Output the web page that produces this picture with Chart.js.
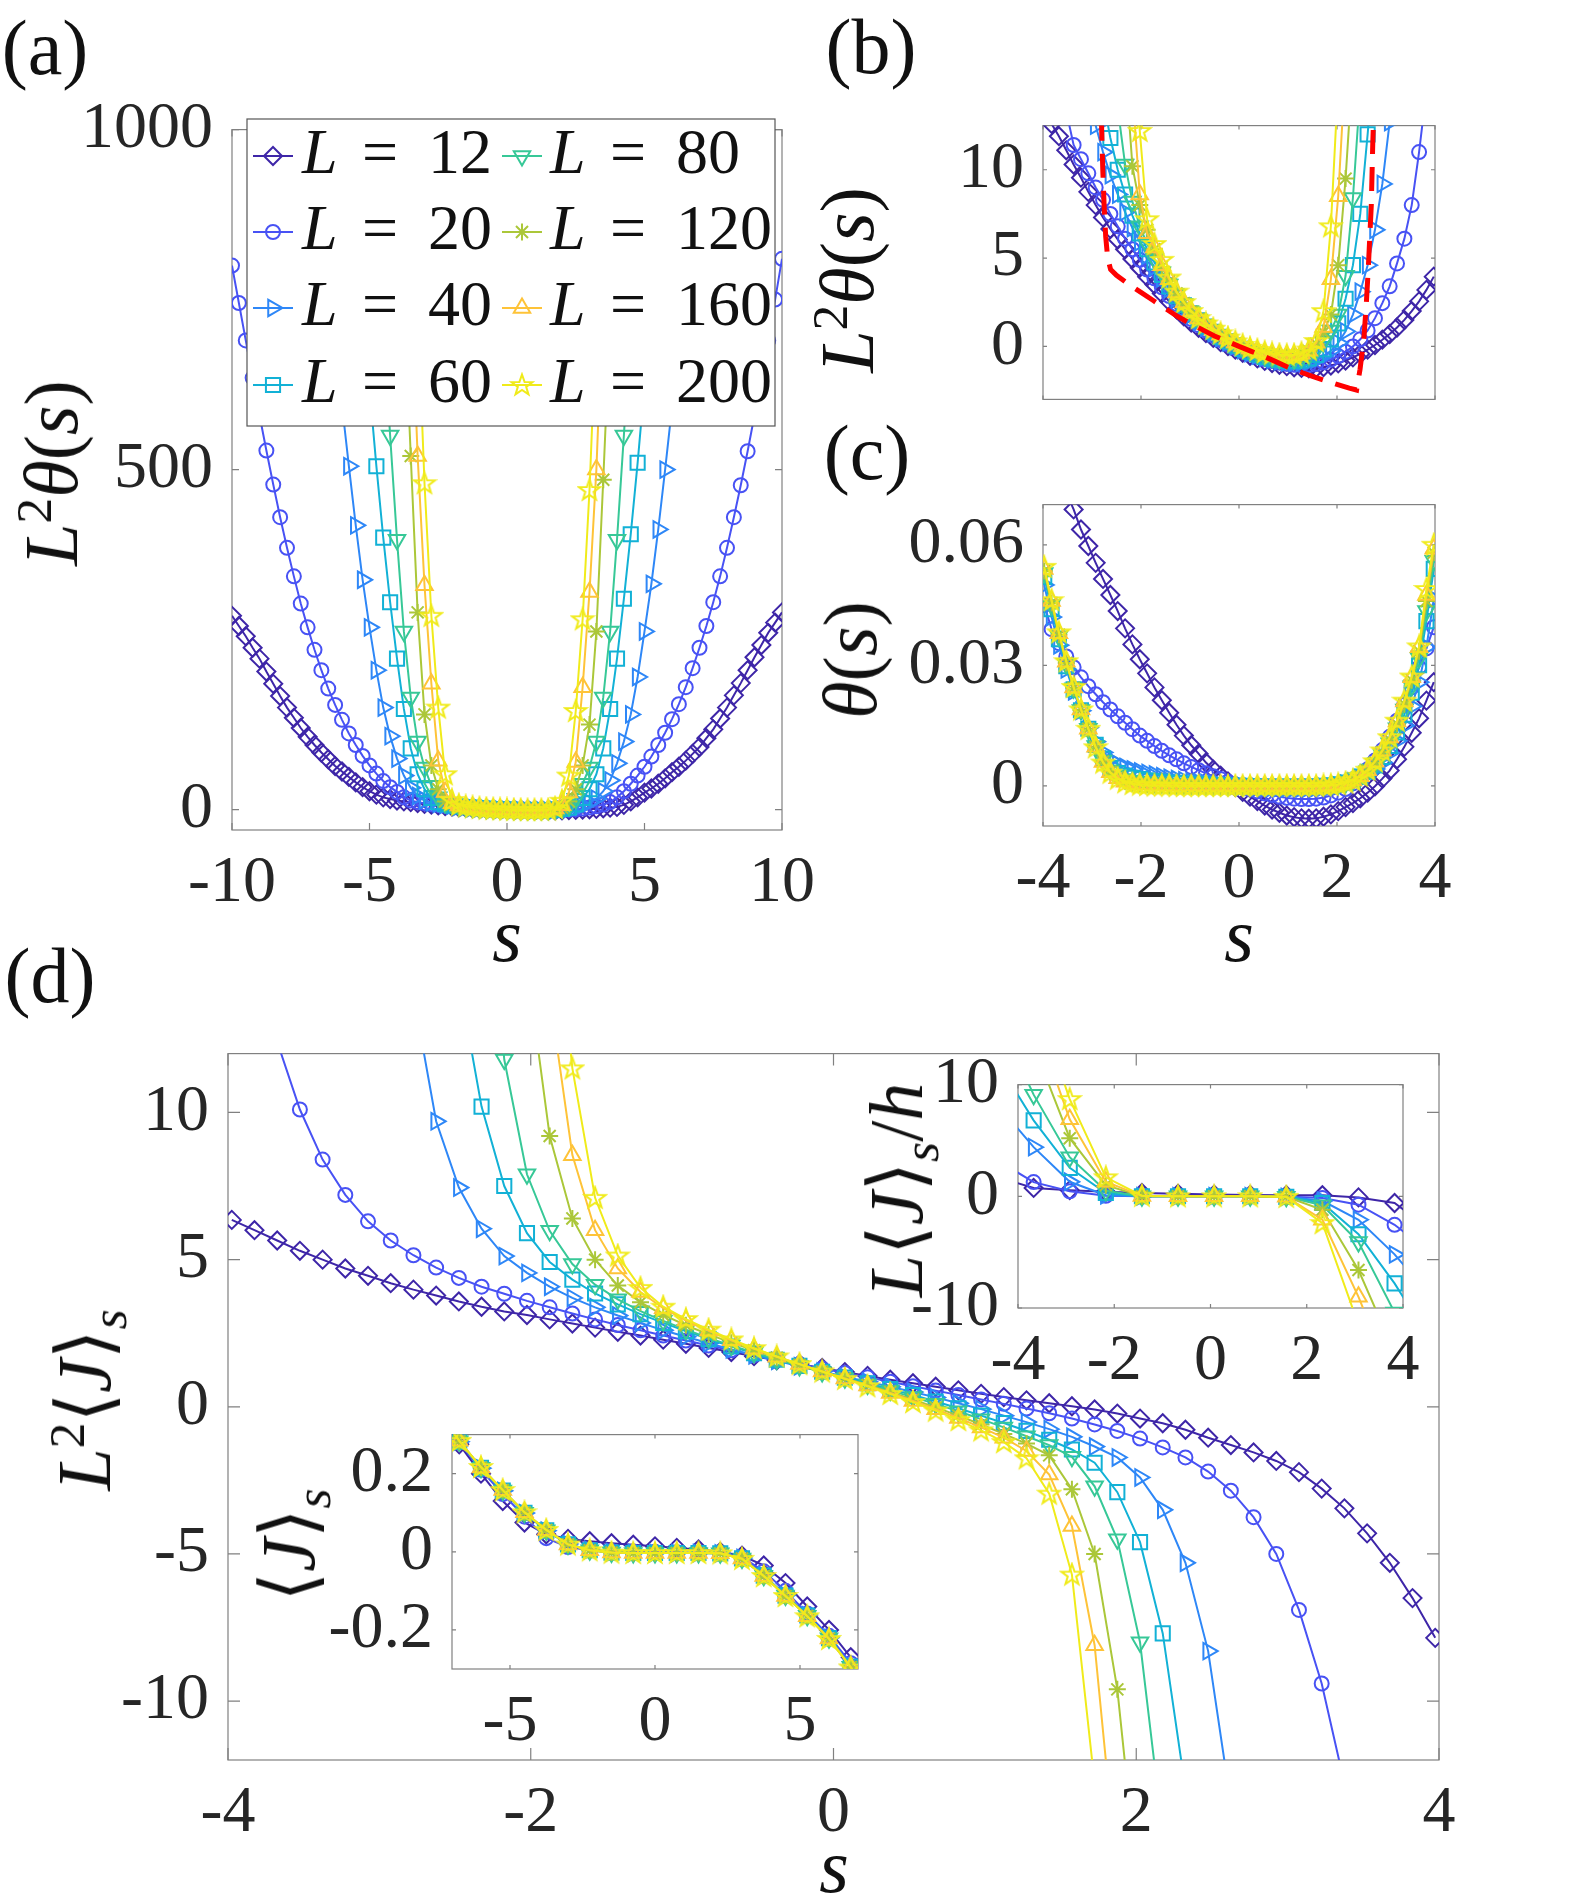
<!DOCTYPE html>
<html>
<head>
<meta charset="utf-8">
<script src="https://cdn.jsdelivr.net/npm/chart.js@4.4.1/dist/chart.umd.min.js"></script>
<style>
  body { margin: 0; background: #fff; width: 1583px; height: 1894px; position: relative; overflow: hidden;
         font-family: 'Liberation Serif', 'Times New Roman', Tinos, 'Noto Serif', 'DejaVu Serif', FreeSerif, serif; color: #111; }
  canvas { position: absolute; }
  .lbl { position: absolute; line-height: 1; white-space: nowrap; transform: translate(-50%, -50%); }
  .pan { font-size: 78px; }
  .ttl { font-size: 76px; }
  .rot { transform: translate(-50%, -50%) rotate(-90deg); }
  sup, sub { font-size: 0.68em; line-height: 0; }
</style>
</head>
<body>
<canvas id="cA"></canvas>
<canvas id="cB"></canvas>
<canvas id="cC"></canvas>
<canvas id="cD"></canvas>
<canvas id="cU"></canvas>
<canvas id="cL"></canvas>

<div class="lbl pan" style="left:45px; top:48px">(a)</div>
<div class="lbl pan" style="left:871px; top:47px">(b)</div>
<div class="lbl pan" style="left:867px; top:453px">(c)</div>
<div class="lbl pan" style="left:50px; top:976px">(d)</div>

<div class="lbl ttl rot" style="left:51px; top:473px"><i>L</i><sup>2</sup><i>θ</i>(<i>s</i>)</div>
<div class="lbl ttl" style="left:507px; top:935px"><i>s</i></div>
<div class="lbl ttl rot" style="left:847px; top:280px"><i>L</i><sup>2</sup><i>θ</i>(<i>s</i>)</div>
<div class="lbl ttl rot" style="left:850px; top:660px"><i>θ</i>(<i>s</i>)</div>
<div class="lbl ttl" style="left:1239px; top:935px"><i>s</i></div>
<div class="lbl ttl rot" style="left:84px; top:1400px"><i>L</i><sup>2</sup>⟨<i>J</i>⟩<sub><i>s</i></sub></div>
<div class="lbl ttl" style="left:834px; top:1866px"><i>s</i></div>
<div class="lbl ttl rot" style="left:288px; top:1545px">⟨<i>J</i>⟩<sub><i>s</i></sub></div>
<div class="lbl ttl rot" style="left:896px; top:1190px"><i>L</i>⟨<i>J</i>⟩<sub><i>s</i></sub>/<i>h</i></div>

<script>
// ---- series labels ----
const sizes = ['12', '20', '40', '60', '80', '120', '160', '200'];

// ---- panel (a): L^2 theta(s), s in [-10, 10] ----
const sA = [-10,-9.75,-9.5,-9.25,-9,-8.75,-8.5,-8.25,-8,-7.75,-7.5,-7.25,-7,-6.75,-6.5,-6.25,-6,-5.75,-5.5,-5.25,
  -5,-4.75,-4.5,-4.25,-4,-3.75,-3.5,-3.25,-3,-2.75,-2.5,-2.25,-2,-1.75,-1.5,-1.25,-1,-0.75,-0.5,-0.25,
  0,0.25,0.5,0.75,1,1.25,1.5,1.75,2,2.25,2.5,2.75,3,3.25,3.5,3.75,4,4.25,4.5,4.75,
  5,5.25,5.5,5.75,6,6.25,6.5,6.75,7,7.25,7.5,7.75,8,8.25,8.5,8.75,9,9.25,9.5,9.75,10];
const aL12 = [285,270,255,238, 222,203,185,167, 150,135,120,107, 95,84,74,64, 56,48,40,33,
  27,22,18,15.5, 13.4,12.1,11.0,9.6, 8.3,7.2,6.1,5.2, 4.4,3.5,2.8,2.0, 1.4,0.9,0.45,0.05,
  -0.3,-0.55,-0.8,-0.97, -1.1,-1.2,-1.24,-1.17, -0.98,-0.7,-0.4,0.05, 0.55,1.1,1.9,2.8, 4.0,7,12,18,
  25,31,38,46, 55,63,72,82, 92,105,118,134, 150,168,186,205, 224,242,260,275, 290];
const aL20 = [800,745,690,635, 580,528,478,430, 385,343,303,268, 235,205,178,154, 132,112,95,79,
  65,53,42,33, 26,18,13.5,11, 9.4,8.0,6.9,5.8, 4.9,4.0,3.2,2.5, 1.85,1.3,0.8,0.3,
  -0.1,-0.45,-0.7,-0.88, -1.0,-1.06,-1.03,-0.9, -0.6,-0.15,0.5,1.6, 3.0,4.8,7.5,11, 18,27,38,50,
  63,78,95,113, 133,155,180,208, 238,270,305,343, 385,430,477,527, 580,633,690,750, 810];
const aL40 = [null,null,null,null, null,null,null,null, null,null,null,1085, 980,880,785,690, 595,505,418,338,
  268,205,150,108, 75,50,32,20, 13.5,10.5,8.7,7.1, 5.8,4.6,3.6,2.7, 1.9,1.25,0.7,0.25,
  -0.1,-0.4,-0.63,-0.8, -0.9,-0.92,-0.8,-0.5, 0.1,1.3,3.4,6.3, 10.5,16,27,43, 68,100,140,195,
  262,332,412,500, 592,690,785,880, 980,1085,null,null, null,null,null,null, null,null,null,null, null];
const aL60 = [null,null,null,null, null,null,null,null, null,null,null,null, null,null,null,null, null,1040,890,750,
  620,505,400,305, 222,148,90,52, 30,17,11,8, 6.2,4.9,3.8,2.9, 2.05,1.35,0.8,0.33,
  -0.04,-0.34,-0.58,-0.73, -0.82,-0.8,-0.6,-0.1, 0.9,2.8,7.5,17, 30,52,90,148, 222,310,405,510,
  625,755,900,1060, null,null,null,null, null,null,null,null, null,null,null,null, null,null,null,null, null];
const aL80 = [null,null,null,null, null,null,null,null, null,null,null,null, null,null,null,null, null,null,null,null,
  1110,905,715,550, 397,262,165,100, 62,35,18,10, 7,5.3,4.0,3.0, 2.1,1.4,0.88,0.4,
  0.0,-0.28,-0.52,-0.67, -0.74,-0.68,-0.38,0.4, 1.6,5.8,16,38, 62,100,165,262, 397,550,717,909,
  1113,null,null,null, null,null,null,null, null,null,null,null, null,null,null,null, null,null,null,null, null];
const aL120 = [null,null,null,null, null,null,null,null, null,null,null,null, null,null,null,null, null,null,null,null,
  null,null,null,null, 1050,760,520,290, 140,65,30,12, 8,5.8,4.5,3.2, 2.2,1.5,0.95,0.5,
  0.1,-0.2,-0.42,-0.55, -0.57,-0.48,-0.15,1.0, 3.2,12,30,65, 125,262,485,720, 1010,null,null,null,
  null,null,null,null, null,null,null,null, null,null,null,null, null,null,null,null, null,null,null,null, null];
const aL160 = [null,null,null,null, null,null,null,null, null,null,null,null, null,null,null,null, null,null,null,null,
  null,null,null,null, null,1080,780,520, 330,185,72,26, 9.5,6.2,4.7,3.4, 2.3,1.55,1.0,0.55,
  0.15,-0.15,-0.36,-0.48, -0.51,-0.42,-0.05,1.5, 6.5,25,70,180, 320,500,760,1050, null,null,null,null,
  null,null,null,null, null,null,null,null, null,null,null,null, null,null,null,null, null,null,null,null, null];
const aL200 = [null,null,null,null, null,null,null,null, null,null,null,null, null,null,null,null, null,null,null,null,
  null,null,null,null, null,null,1050,740, 480,285,150,52, 14,7.0,4.9,3.5, 2.4,1.6,1.05,0.6,
  0.2,-0.1,-0.3,-0.42, -0.49,-0.4,0.0,2.5, 13,50,145,280, 470,720,1020,null, null,null,null,null,
  null,null,null,null, null,null,null,null, null,null,null,null, null,null,null,null, null,null,null,null, null];

// ---- shared grid for (b), (c), (d) ----
const sB = [-3.975,-3.825,-3.675,-3.525,-3.375,-3.225,-3.075,-2.925,-2.775,
  -2.625,-2.475,-2.325,-2.175,-2.025,-1.875,-1.725,-1.575,-1.425,
  -1.275,-1.125,-0.975,-0.825,-0.675,-0.525,-0.375,-0.225,-0.075,
  0.075,0.225,0.375,0.525,0.675,0.825,0.975,1.125,1.275,
  1.425,1.575,1.725,1.875,2.025,2.175,2.325,2.475,2.625,
  2.775,2.925,3.075,3.225,3.375,3.525,3.675,3.825,3.975];

// ---- panel (b): L^2 theta(s) zoom ----
const bL12 = [13.3,12.6,11.9,11.1,10.3,9.55,8.75,8.0,7.3,
  6.65,6.05,5.5,4.95,4.45,3.95,3.5,3.0,2.55,
  2.1,1.7,1.35,1.05,0.75,0.48,0.24,0.02,-0.18,
  -0.36,-0.53,-0.68,-0.82,-0.94,-1.04,-1.12,-1.18,-1.22,
  -1.24,-1.22,-1.17,-1.08,-0.96,-0.8,-0.62,-0.42,-0.18,
  0.08,0.38,0.7,1.07,1.5,2.0,2.55,3.2,3.95];
const bL20 = [null,null,null,13.3,11.4,10.6,9.8,9.0,8.3,
  7.5,6.8,6.1,5.5,4.9,4.35,3.85,3.35,2.85,
  2.4,1.95,1.55,1.2,0.9,0.62,0.36,0.12,-0.08,
  -0.27,-0.44,-0.59,-0.72,-0.83,-0.92,-0.99,-1.04,-1.06,
  -1.05,-1.0,-0.9,-0.75,-0.55,-0.3,0.0,0.4,0.9,
  1.6,2.45,3.4,4.7,6.1,8.0,11.0,14.5,null];
const bL40 = [null,null,null,null,null,null,14.5,12.5,11.0,
  9.7,8.6,7.6,6.7,5.9,5.15,4.5,3.85,3.25,
  2.7,2.2,1.78,1.4,1.05,0.75,0.48,0.23,0.0,
  -0.2,-0.37,-0.52,-0.65,-0.76,-0.84,-0.9,-0.93,-0.92,
  -0.86,-0.74,-0.55,-0.25,0.2,0.85,1.8,3.1,4.6,
  6.6,9.2,12.7,17,null,null,null,null,null];
const bL60 = [null,null,null,null,null,null,null,null,14.0,
  11.8,10.0,8.6,7.4,6.4,5.5,4.75,4.05,3.4,
  2.85,2.33,1.88,1.48,1.12,0.82,0.54,0.29,0.06,
  -0.14,-0.31,-0.46,-0.59,-0.69,-0.77,-0.82,-0.83,-0.79,
  -0.68,-0.48,-0.15,0.4,1.3,2.7,4.6,7.5,12.0,
  17,null,null,null,null,null,null,null,null];
const bL80 = [null,null,null,null,null,null,null,null,null,
  17,13.5,10.3,8.2,6.8,5.8,4.95,4.2,3.5,
  2.92,2.4,1.93,1.52,1.16,0.86,0.58,0.33,0.1,
  -0.1,-0.27,-0.42,-0.54,-0.64,-0.71,-0.74,-0.73,-0.66,
  -0.5,-0.2,0.3,0.9,1.8,4.0,8.4,14.5,null,
  null,null,null,null,null,null,null,null,null];
const bL120 = [null,null,null,null,null,null,null,null,null,
  null,null,16,10.2,8.0,6.6,5.5,4.5,3.7,
  3.0,2.45,1.97,1.56,1.2,0.9,0.62,0.38,0.16,
  -0.03,-0.18,-0.31,-0.42,-0.5,-0.55,-0.57,-0.55,-0.46,
  -0.26,0.15,0.8,1.8,4.6,9.5,16,null,null,
  null,null,null,null,null,null,null,null,null];
const bL160 = [null,null,null,null,null,null,null,null,null,
  null,null,null,14.5,8.6,6.4,5.6,4.6,3.8,
  3.05,2.48,1.99,1.58,1.25,0.95,0.68,0.44,0.22,
  0.03,-0.12,-0.25,-0.36,-0.44,-0.49,-0.51,-0.5,-0.42,
  -0.24,0.2,1.1,3.8,8.5,16,null,null,null,
  null,null,null,null,null,null,null,null,null];
const bL200 = [null,null,null,null,null,null,null,null,null,
  null,null,null,19,12.2,7.2,5.8,4.9,3.9,
  3.1,2.5,2.0,1.6,1.3,1.0,0.74,0.5,0.28,
  0.08,-0.08,-0.2,-0.32,-0.4,-0.46,-0.49,-0.47,-0.38,
  -0.18,0.3,2.0,6.8,15,null,null,null,null,
  null,null,null,null,null,null,null,null,null];
// red dashed reference curve in (b)
const redS = [-2.81,-2.78,-2.75,-2.72,-2.68,-2.62,-2.5,-2.25,-2.0,-1.75,-1.5,-1.25,-1.0,-0.75,-0.5,-0.25,
  0,0.25,0.5,0.75,1.0,1.25,1.5,1.75,2.0,2.25,2.4,2.47,2.55,2.6,2.64,2.7,2.73,2.76];
const redV = [13,10,7.8,6.2,5.0,4.35,4.02,3.52,3.06,2.6,2.14,1.69,1.3,0.95,0.59,0.3,
  0.0,-0.28,-0.55,-0.86,-1.18,-1.45,-1.7,-1.93,-2.15,-2.36,-2.47,-1.3,0.5,2.5,4.5,8.0,11.5,14];

// ---- panel (c): theta(s) ----
const cL12 = [0.088,0.083,0.078,0.073,0.0688,0.0638,0.0597,0.0555,0.0515,
  0.0475,0.0435,0.0392,0.0352,0.0315,0.028,0.0245,0.0213,0.0182,
  0.0152,0.0125,0.0101,0.008,0.0058,0.004,0.0025,0.0011,-0.0003,
  -0.0015,-0.0027,-0.0038,-0.0049,-0.0059,-0.0067,-0.0074,-0.0078,-0.0081,
  -0.0082,-0.0081,-0.0077,-0.0071,-0.0063,-0.0053,-0.0043,-0.0031,-0.0017,
  -0.0001,0.0018,0.0038,0.0066,0.0097,0.0132,0.0168,0.0212,0.0258];
const cL20 = [0.045,0.039,0.0355,0.0322,0.0295,0.027,0.0248,0.0228,0.0208,
  0.019,0.0173,0.0157,0.0141,0.0125,0.0112,0.0099,0.0087,0.0076,
  0.0066,0.0056,0.0047,0.0039,0.0031,0.0024,0.0017,0.001,0.0003,
  -0.0003,-0.0009,-0.0014,-0.0019,-0.0023,-0.0027,-0.003,-0.0032,-0.0033,
  -0.0033,-0.0032,-0.0029,-0.0024,-0.0017,-0.0008,0.0006,0.0022,0.0041,
  0.0063,0.0089,0.0122,0.0162,0.0202,0.0245,0.0295,0.0342,0.0395];
const cL40 = [0.05,0.042,0.035,0.029,0.0235,0.0187,0.0145,0.011,0.0083,
  0.0065,0.0054,0.0047,0.0041,0.0036,0.0032,0.0028,0.0024,0.002,
  0.0017,0.0014,0.0011,0.0009,0.0007,0.0005,0.0003,0.0001,0,
  -0.0001,-0.0002,-0.0003,-0.0004,-0.0005,-0.0005,-0.0006,-0.0006,-0.0006,
  -0.0005,-0.0005,-0.0003,-0.0002,0.0001,0.0005,0.0011,0.0019,0.0029,
  0.0042,0.0058,0.0082,0.0112,0.015,0.0198,0.0258,0.0345,0.0465];
const cL60 = [0.052,0.044,0.0365,0.0298,0.024,0.0188,0.0142,0.0102,0.0068,
  0.0045,0.0032,0.0025,0.002,0.0017,0.0014,0.0012,0.001,0.0008,
  0.0007,0.0006,0.0005,0.0004,0.0003,0.0002,0.0001,0.0001,0,
  0,-0.0001,-0.0001,-0.0002,-0.0002,-0.0002,-0.0002,-0.0002,-0.0002,
  -0.0002,-0.0001,0,0.0001,0.0004,0.0008,0.0014,0.0023,0.0035,
  0.0051,0.0072,0.0099,0.0133,0.0177,0.0232,0.03,0.041,0.054];
const cL80 = [0.053,0.045,0.0372,0.0303,0.0243,0.0189,0.0142,0.0099,0.0063,
  0.0039,0.0025,0.0017,0.0013,0.0011,0.0009,0.0008,0.0007,0.0006,
  0.0005,0.0004,0.0003,0.0002,0.0002,0.0001,0.0001,0,0,
  0,0,-0.0001,-0.0001,-0.0001,-0.0001,-0.0001,-0.0001,-0.0001,
  -0.0001,0,0,0.0001,0.0003,0.0007,0.0013,0.0022,0.0036,
  0.0054,0.0077,0.0106,0.0143,0.019,0.0248,0.0318,0.0435,0.056];
const cL120 = [0.0535,0.0455,0.0376,0.0306,0.0244,0.0189,0.0142,0.0097,0.006,
  0.0035,0.0021,0.0012,0.0007,0.0005,0.0004,0.0003,0.0003,0.0002,
  0.0002,0.0002,0.0001,0.0001,0.0001,0,0,0,0,
  0,0,0,0,0,0,0,0,0,
  0,0,0.0001,0.0001,0.0003,0.0007,0.0013,0.0023,0.0038,
  0.0058,0.0084,0.0115,0.0154,0.0203,0.0263,0.0335,0.046,0.058];
const cL160 = [0.054,0.046,0.038,0.0309,0.0245,0.019,0.0142,0.0097,0.0059,
  0.0034,0.0019,0.001,0.0006,0.0003,0.0003,0.0002,0.0002,0.0001,
  0.0001,0.0001,0.0001,0.0001,0,0,0,0,0,
  0,0,0,0,0,0,0,0,0,
  0,0,0,0.0001,0.0003,0.0007,0.0013,0.0024,0.0039,
  0.006,0.0087,0.012,0.016,0.021,0.027,0.0345,0.0475,0.059];
const cL200 = [0.0545,0.0462,0.0382,0.031,0.0246,0.019,0.0142,0.0096,0.0058,
  0.0033,0.0018,0.0009,0.0005,0.0003,0.0002,0.0001,0.0001,0.0001,
  0,0,0,0,0,0,0,0,0,
  0,0,0,0,0,0,0,0,0,
  0,0,0.0001,0.0002,0.0004,0.0008,0.0014,0.0025,0.004,
  0.0061,0.0088,0.0121,0.0162,0.0212,0.0272,0.0347,0.049,0.06];

// ---- panel (d): L^2 <J>_s ----
const dL12 = [6.35,6.0,5.65,5.3,5.0,4.7,4.45,4.2,3.98,
  3.78,3.58,3.4,3.24,3.12,2.97,2.83,2.69,2.55,
  2.42,2.28,2.14,2.0,1.86,1.72,1.58,1.45,1.32,
  1.18,1.05,0.92,0.8,0.68,0.56,0.44,0.33,0.22,
  0.12,0.02,-0.09,-0.23,-0.4,-0.56,-0.78,-1.05,-1.3,
  -1.55,-1.84,-2.22,-2.78,-3.45,-4.3,-5.3,-6.5,-7.85];
const dL20 = [null,null,12.4,10.1,8.4,7.2,6.3,5.65,5.15,
  4.73,4.38,4.08,3.84,3.6,3.38,3.17,2.97,2.78,
  2.6,2.42,2.25,2.08,1.92,1.76,1.6,1.45,1.3,
  1.15,1.0,0.85,0.7,0.55,0.4,0.25,0.1,-0.06,
  -0.22,-0.4,-0.6,-0.82,-1.08,-1.38,-1.72,-2.2,-2.85,
  -3.75,-5.0,-6.9,-9.4,-12.8,null,null,null,null];
const dL40 = [null,null,null,null,null,null,null,null,14,
  9.7,7.45,6.05,5.12,4.55,4.08,3.7,3.38,3.1,
  2.85,2.6,2.38,2.16,1.95,1.75,1.56,1.38,1.2,
  1.02,0.85,0.68,0.5,0.32,0.12,-0.08,-0.3,-0.52,
  -0.76,-1.02,-1.35,-1.72,-2.4,-3.5,-5.3,-8.3,-13.5,
  null,null,null,null,null,null,null,null,null];
const dL60 = [null,null,null,null,null,null,null,null,null,
  null,14.5,10.2,7.5,5.9,4.92,4.32,3.85,3.48,
  3.15,2.85,2.57,2.3,2.05,1.82,1.6,1.39,1.19,
  0.99,0.8,0.6,0.4,0.18,-0.05,-0.3,-0.55,-0.82,
  -1.12,-1.45,-1.9,-2.9,-4.6,-7.7,-13,null,null,
  null,null,null,null,null,null,null,null,null];
const dL80 = [null,null,null,null,null,null,null,null,null,
  null,null,20,11.8,7.9,5.98,4.85,4.15,3.65,
  3.25,2.92,2.62,2.34,2.08,1.84,1.61,1.39,1.18,
  0.97,0.76,0.55,0.33,0.1,-0.15,-0.42,-0.7,-1.0,
  -1.3,-1.7,-2.7,-4.5,-8.0,-14.5,null,null,null,
  null,null,null,null,null,null,null,null,null];
const dL120 = [null,null,null,null,null,null,null,null,null,
  null,null,null,null,15,9.2,6.4,5.0,4.12,
  3.55,3.12,2.77,2.46,2.18,1.92,1.67,1.43,1.2,
  0.97,0.74,0.5,0.25,-0.02,-0.3,-0.6,-0.92,-1.25,
  -1.65,-2.8,-5.0,-9.6,-17,null,null,null,null,
  null,null,null,null,null,null,null,null,null];
const dL160 = [null,null,null,null,null,null,null,null,null,
  null,null,null,null,null,14,8.55,6.0,4.7,
  3.9,3.35,2.93,2.58,2.26,1.97,1.7,1.45,1.2,
  0.96,0.72,0.47,0.2,-0.08,-0.38,-0.7,-1.05,-1.5,
  -2.3,-4.05,-8.1,-16,null,null,null,null,null,
  null,null,null,null,null,null,null,null,null];
const dL200 = [null,null,null,null,null,null,null,null,null,
  null,null,null,null,null,19,11.5,7.1,5.14,
  4.04,3.4,2.98,2.62,2.29,1.99,1.71,1.45,1.2,
  0.95,0.7,0.44,0.16,-0.13,-0.45,-0.8,-1.2,-1.75,
  -2.95,-5.7,-12.8,null,null,null,null,null,null,
  null,null,null,null,null,null,null,null,null];

// ---- upper inset: L<J>_s/h ----
const sUp = [-4.425,-3.675,-2.925,-2.175,-1.425,-0.675,0.075,0.825,1.575,2.325,3.075,3.825,4.575];
const uL12 = [1.7,0.75,0.55,0.4,0.3,0.22,0.15,0.12,0.1,0.1,-0.1,-0.6,-3.0];
const uL20 = [3.2,1.27,0.45,0.05,0.0,0.0,0.0,0.0,-0.02,-0.15,-0.75,-2.55,-5.0];
const uL40 = [8.2,4.4,1.3,0.1,0.0,0.0,0.0,0.0,-0.05,-0.4,-2.1,-5.2,-9.0];
const uL60 = [12,6.8,2.55,0.3,0.0,0.0,0.0,0.0,-0.05,-0.6,-3.4,-7.8,-13];
const uL80 = [16,9.1,3.5,0.5,0.0,0.0,0.0,0.0,-0.05,-0.8,-4.1,-10.4,-18];
const uL120 = [22,13.5,5.2,1.0,0.0,0.0,0.0,0.0,-0.05,-1.2,-6.6,-14,-22];
const uL160 = [26,16,6.9,1.3,0.02,0.0,0.0,0.0,-0.05,-2.1,-9.0,-17,-26];
const uL200 = [30,18,8.7,1.7,0.05,0.0,0.0,0.0,-0.05,-2.4,-11.5,-20,-30];

// ---- lower inset: <J>_s ----
const sLo = [-7.5,-6.75,-6,-5.25,-4.5,-3.75,-3,-2.25,-1.5,-0.75,0,0.75,1.5,2.25,3,3.75,4.5,5.25,6,6.75,7.5];
const lL12 = [0.35,0.275,0.2,0.13,0.075,0.045,0.033,0.027,0.022,0.018,0.014,0.01,0.006,0.0,-0.01,-0.035,-0.08,-0.14,-0.2,-0.27,-0.34];
const lL20 = [0.355,0.28,0.21,0.148,0.09,0.035,0.012,0.004,0.002,0.001,0.0,-0.001,-0.002,-0.004,-0.013,-0.05,-0.1,-0.158,-0.215,-0.285,-0.355];
const lL40 = [0.36,0.282,0.214,0.156,0.099,0.054,0.02,0.005,-0.001,-0.003,-0.003,-0.003,-0.003,-0.004,-0.016,-0.06,-0.111,-0.162,-0.22,-0.293,-0.365];
const lL60 = [0.36,0.282,0.215,0.157,0.1,0.055,0.019,0.004,-0.002,-0.003,-0.003,-0.003,-0.003,-0.004,-0.017,-0.061,-0.112,-0.163,-0.221,-0.294,-0.366];
const lL80 = [0.361,0.283,0.215,0.157,0.1,0.055,0.019,0.004,-0.002,-0.003,-0.003,-0.003,-0.003,-0.004,-0.017,-0.061,-0.112,-0.164,-0.221,-0.294,-0.366];
const lL120 = [0.361,0.283,0.216,0.158,0.101,0.056,0.019,0.004,-0.002,-0.003,-0.003,-0.003,-0.003,-0.004,-0.017,-0.062,-0.113,-0.164,-0.222,-0.295,-0.367];
const lL160 = [0.362,0.284,0.216,0.158,0.101,0.056,0.019,0.004,-0.002,-0.003,-0.003,-0.003,-0.003,-0.004,-0.017,-0.062,-0.113,-0.165,-0.222,-0.295,-0.367];
const lL200 = [0.362,0.284,0.217,0.158,0.101,0.056,0.019,0.004,-0.002,-0.003,-0.003,-0.003,-0.003,-0.004,-0.018,-0.062,-0.113,-0.165,-0.223,-0.296,-0.368];

// ---- styling ----
const FONT = "'Liberation Serif', 'Times New Roman', Tinos, 'Noto Serif', 'DejaVu Serif', FreeSerif, serif";
const colors = ['#3E26A8', '#4852F4', '#2E87F7', '#12B1D6', '#37C897', '#ABC739', '#FEC338', '#F0EB1A'];
const markers = ['rectRot', 'circle', 'triangle', 'rect', 'triangle', 'star', 'triangle', 'pentagram'];
const markerRot = [0, 0, 90, 0, 180, 0, 0, 0];
const markerSize = [9, 7, 9.5, 10, 9.5, 8.5, 9.5, 10];
const WY = 170, PT = 45, PR = 48, HX = 100;

// pentagram marker drawn once onto a small canvas
function makePentagram(color) {
  const c = document.createElement('canvas');
  c.width = 26; c.height = 26;
  const g = c.getContext('2d');
  g.strokeStyle = color; g.lineWidth = 2;
  g.beginPath();
  for (let k = 0; k < 10; k++) {
    const r = k % 2 === 0 ? 11 : 4.4;
    const a = -Math.PI / 2 + k * Math.PI / 5;
    const px = 13 + r * Math.cos(a), py = 13.5 + r * Math.sin(a);
    if (k === 0) g.moveTo(px, py); else g.lineTo(px, py);
  }
  g.closePath(); g.stroke();
  return c;
}
const star5 = makePentagram(colors[7]);
const styleOf = i => markers[i] === 'pentagram' ? star5 : markers[i];

function series(xs, lists) {
  return lists.map((ys, i) => ({
    label: 'L = ' + sizes[i],
    data: xs.map((x, k) => ({ x: x, y: ys[k] })),
    borderColor: colors[i],
    borderWidth: 2,
    pointStyle: styleOf(i),
    pointRotation: markerRot[i],
    pointRadius: markerSize[i],
    pointBorderColor: colors[i],
    pointBorderWidth: 2,
    pointBackgroundColor: 'rgba(0,0,0,0)',
    order: lists.length - i
  }));
}

function axis(min, max, ticks, labels, horizontal, hx, showLabels) {
  return {
    type: 'linear', min: min, max: max,
    grid: { display: false, drawTicks: false },
    border: { display: false },
    afterBuildTicks: s => { s.ticks = ticks.map(v => ({ value: v })); },
    afterFit: s => { if (horizontal) s.height = hx; else s.width = WY; },
    ticks: {
      display: showLabels, autoSkip: false, maxRotation: 0, minRotation: 0,
      padding: horizontal ? 14 : 19,
      color: '#262626',
      font: { family: FONT, size: 66 },
      callback: (v, i) => labels[i]
    }
  };
}

// box with inward ticks on all four sides (MATLAB style)
const framePlugin = {
  id: 'frame',
  beforeDatasetsDraw(chart, args, o) {
    const { ctx, chartArea: a } = chart;
    const x = chart.scales.x, y = chart.scales.y;
    ctx.save();
    if (o.fill) { ctx.fillStyle = '#ffffff'; ctx.fillRect(a.left, a.top, a.width, a.height); }
    ctx.strokeStyle = '#808080';
    ctx.lineWidth = 1.2;
    ctx.strokeRect(a.left, a.top, a.width, a.height);
    ctx.beginPath();
    x.ticks.forEach(t => {
      const p = x.getPixelForValue(t.value);
      ctx.moveTo(p, a.bottom); ctx.lineTo(p, a.bottom - o.len);
      ctx.moveTo(p, a.top); ctx.lineTo(p, a.top + o.len);
    });
    y.ticks.forEach(t => {
      const p = y.getPixelForValue(t.value);
      ctx.moveTo(a.left, p); ctx.lineTo(a.left + o.len, p);
      ctx.moveTo(a.right, p); ctx.lineTo(a.right - o.len, p);
    });
    ctx.stroke();
    ctx.restore();
  }
};

function fallbackPoint(ctx, o, x, y) {
  ctx.beginPath(); ctx.arc(x, y, o.radius, 0, Math.PI * 2); ctx.stroke();
}
const drawPoint = (Chart.helpers && Chart.helpers.drawPoint) || fallbackPoint;

// two-column legend inside panel (a)
const legendPlugin = {
  id: 'boxLegend',
  afterDatasetsDraw(chart, args, o) {
    const ctx = chart.ctx;
    ctx.save();
    ctx.translate(-o.ox, -o.oy);
    ctx.fillStyle = '#ffffff';
    ctx.fillRect(o.l, o.t, o.r - o.l, o.b - o.t);
    ctx.strokeStyle = '#555555'; ctx.lineWidth = 1.2;
    ctx.strokeRect(o.l, o.t, o.r - o.l, o.b - o.t);
    sizes.forEach((n, i) => {
      const col = Math.floor(i / 4), row = i % 4;
      const cx = o.colX[col], cy = o.rowY[row], tx = o.textX[col];
      ctx.strokeStyle = colors[i]; ctx.lineWidth = 2;
      ctx.beginPath(); ctx.moveTo(cx - 20, cy); ctx.lineTo(cx + 20, cy); ctx.stroke();
      ctx.fillStyle = 'rgba(0,0,0,0)';
      drawPoint(ctx, { pointStyle: styleOf(i), rotation: markerRot[i], radius: markerSize[i], borderWidth: 2 }, cx, cy);
      ctx.fillStyle = '#111111';
      ctx.textBaseline = 'middle'; ctx.textAlign = 'left';
      ctx.font = 'italic 64px ' + FONT;
      ctx.fillText('L', tx, cy);
      ctx.font = '64px ' + FONT;
      ctx.fillText('=', tx + 60, cy);
      ctx.fillText(n, tx + 126, cy);
    });
    ctx.restore();
  }
};

function makeChart(id, box, hx, datasets, xAx, yAx, frameOpts, extraPlugins, extraOpts) {
  const cv = document.getElementById(id);
  const w = WY + (box.r - box.l) + PR;
  const h = PT + (box.b - box.t) + hx;
  cv.width = w; cv.height = h;
  cv.style.left = (box.l - WY) + 'px';
  cv.style.top = (box.t - PT) + 'px';
  cv.style.width = w + 'px'; cv.style.height = h + 'px';
  const pluginOpts = Object.assign({ legend: { display: false }, tooltip: { enabled: false }, frame: frameOpts }, extraOpts || {});
  return new Chart(cv.getContext('2d'), {
    type: 'line',
    data: { datasets: datasets },
    options: {
      responsive: false, animation: false, devicePixelRatio: 1,
      layout: { padding: { left: 0, top: PT, right: PR, bottom: 0 } },
      plugins: pluginOpts,
      scales: { x: xAx, y: yAx }
    },
    plugins: [framePlugin].concat(extraPlugins || [])
  });
}

// ---- boxes (page pixels) ----
const boxA = { l: 232, t: 116, r: 782, b: 830 };
const boxB = { l: 1043, t: 112, r: 1435, b: 448 };
const boxC = { l: 1043, t: 491, r: 1435, b: 826 };
const boxD = { l: 228, t: 1040, r: 1439, b: 1760 };
const boxU = { l: 1018, t: 1071, r: 1403, b: 1308 };
const boxL = { l: 452, t: 1421, r: 858, b: 1669 };

// (a)
makeChart('cA', boxA, HX,
  series(sA, [aL12, aL20, aL40, aL60, aL80, aL120, aL160, aL200]),
  axis(-10, 10, [-10, -5, 0, 5, 10], ['-10', '-5', '0', '5', '10'], true, HX, true),
  axis(-30, 1000, [0, 500, 1000], ['0', '500', '1000'], false, HX, true),
  { len: 7 }, [legendPlugin],
  { boxLegend: { ox: boxA.l - WY, oy: boxA.t - PT, l: 247, t: 119, r: 775, b: 426,
                 rowY: [156, 232, 308, 385], colX: [273, 522], textX: [302, 550] } });

// (b)
const bSets = series(sB, [bL12, bL20, bL40, bL60, bL80, bL120, bL160, bL200]);
bSets.push({
  data: redS.map((x, k) => ({ x: x, y: redV[k] })),
  borderColor: '#FF0000', borderWidth: 5, borderDash: [24, 13],
  pointRadius: 0, order: -1
});
makeChart('cB', boxB, 10, bSets,
  axis(-4, 4, [-4, -2, 0, 2, 4], ['', '', '', '', ''], true, 10, false),
  axis(-3, 12.5, [0, 5, 10], ['0', '5', '10'], false, 10, true),
  { len: 4 });

// (c)
makeChart('cC', boxC, HX,
  series(sB, [cL12, cL20, cL40, cL60, cL80, cL120, cL160, cL200]),
  axis(-4, 4, [-4, -2, 0, 2, 4], ['-4', '-2', '0', '2', '4'], true, HX, true),
  axis(-0.01, 0.07, [0, 0.03, 0.06], ['0', '0.03', '0.06'], false, HX, true),
  { len: 4 });

// (d)
makeChart('cD', boxD, HX,
  series(sB, [dL12, dL20, dL40, dL60, dL80, dL120, dL160, dL200]),
  axis(-4, 4, [-4, -2, 0, 2, 4], ['-4', '-2', '0', '2', '4'], true, HX, true),
  axis(-12, 12, [-10, -5, 0, 5, 10], ['-10', '-5', '0', '5', '10'], false, HX, true),
  { len: 12 });

// upper inset
makeChart('cU', boxU, HX,
  series(sUp, [uL12, uL20, uL40, uL60, uL80, uL120, uL160, uL200]),
  axis(-4, 4, [-4, -2, 0, 2, 4], ['-4', '-2', '0', '2', '4'], true, HX, true),
  axis(-10, 10, [-10, 0, 10], ['-10', '0', '10'], false, HX, true),
  { len: 4, fill: true });

// lower inset
makeChart('cL', boxL, HX,
  series(sLo, [lL12, lL20, lL40, lL60, lL80, lL120, lL160, lL200]),
  axis(-7, 7, [-5, 0, 5], ['-5', '0', '5'], true, HX, true),
  axis(-0.3, 0.3, [-0.2, 0, 0.2], ['-0.2', '0', '0.2'], false, HX, true),
  { len: 4, fill: true });
</script>
</body>
</html>
